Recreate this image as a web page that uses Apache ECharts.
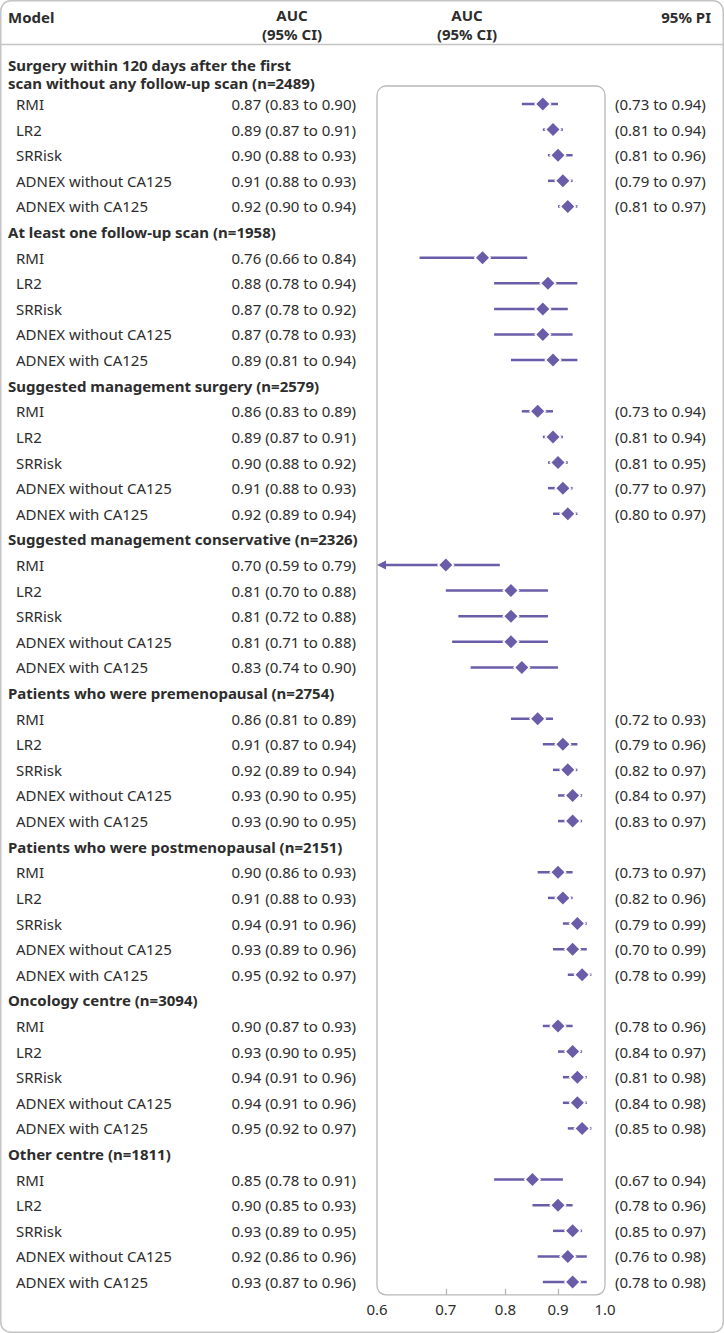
<!DOCTYPE html>
<html>
<head>
<meta charset="utf-8">
<style>
html,body{margin:0;padding:0;background:#fff;}
#chart{width:724px;height:1333px;}
</style>
<script src="https://cdn.jsdelivr.net/npm/echarts@6/dist/echarts.min.js"></script>
</head>
<body>
<div id="chart"></div>
<script>
const models = ['RMI', 'LR2', 'SRRisk', 'ADNEX without CA125', 'ADNEX with CA125'];
const groups = [
  ['Surgery within 120 days after the first', 'scan without any follow-up scan (n=2489)'],
  ['At least one follow-up scan (n=1958)'],
  ['Suggested management surgery (n=2579)'],
  ['Suggested management conservative (n=2326)'],
  ['Patients who were premenopausal (n=2754)'],
  ['Patients who were postmenopausal (n=2151)'],
  ['Oncology centre (n=3094)'],
  ['Other centre (n=1811)']
];
const aucEst = [
  [0.87, 0.89, 0.90, 0.91, 0.92],
  [0.76, 0.88, 0.87, 0.87, 0.89],
  [0.86, 0.89, 0.90, 0.91, 0.92],
  [0.70, 0.81, 0.81, 0.81, 0.83],
  [0.86, 0.91, 0.92, 0.93, 0.93],
  [0.90, 0.91, 0.94, 0.93, 0.95],
  [0.90, 0.93, 0.94, 0.94, 0.95],
  [0.85, 0.90, 0.93, 0.92, 0.93]
];
const ciLow = [
  [0.83, 0.87, 0.88, 0.88, 0.90],
  [0.66, 0.78, 0.78, 0.78, 0.81],
  [0.83, 0.87, 0.88, 0.88, 0.89],
  [0.59, 0.70, 0.72, 0.71, 0.74],
  [0.81, 0.87, 0.89, 0.90, 0.90],
  [0.86, 0.88, 0.91, 0.89, 0.92],
  [0.87, 0.90, 0.91, 0.91, 0.92],
  [0.78, 0.85, 0.89, 0.86, 0.87]
];
const ciHigh = [
  [0.90, 0.91, 0.93, 0.93, 0.94],
  [0.84, 0.94, 0.92, 0.93, 0.94],
  [0.89, 0.91, 0.92, 0.93, 0.94],
  [0.79, 0.88, 0.88, 0.88, 0.90],
  [0.89, 0.94, 0.94, 0.95, 0.95],
  [0.93, 0.93, 0.96, 0.96, 0.97],
  [0.93, 0.95, 0.96, 0.96, 0.97],
  [0.91, 0.93, 0.95, 0.96, 0.96]
];
const piLow = [
  [0.73, 0.81, 0.81, 0.79, 0.81],
  null,
  [0.73, 0.81, 0.81, 0.77, 0.80],
  null,
  [0.72, 0.79, 0.82, 0.84, 0.83],
  [0.73, 0.82, 0.79, 0.70, 0.78],
  [0.78, 0.84, 0.81, 0.84, 0.85],
  [0.67, 0.78, 0.85, 0.76, 0.78]
];
const piHigh = [
  [0.94, 0.94, 0.96, 0.97, 0.97],
  null,
  [0.94, 0.94, 0.95, 0.97, 0.97],
  null,
  [0.93, 0.96, 0.97, 0.97, 0.97],
  [0.97, 0.96, 0.99, 0.99, 0.99],
  [0.96, 0.97, 0.98, 0.98, 0.98],
  [0.94, 0.96, 0.97, 0.98, 0.98]
];
const xTickLabels = [0.6, 0.7, 0.8, 0.9, 1.0];
const xTickMarks = [0.7, 0.8, 0.9];
const xMin = 0.6, xMax = 1.0;

// Build row slots
const slots = [];
groups.forEach((g, gi) => {
  slots.push({ type: 'h', lines: g });
  models.forEach((m, mi) => slots.push({ type: 'm', text: m, g: gi, m: mi }));
});
const cats = slots.map((s, i) => String(i));
const f2 = v => v.toFixed(2);
const rowData = [];
slots.forEach((s, i) => {
  if (s.type === 'm') rowData.push([aucEst[s.g][s.m], ciLow[s.g][s.m], ciHigh[s.g][s.m], i]);
});

const PURPLE = '#6b5ca9';
const TXT = '#2d2d2d';
const FONT = '"Noto Sans", "Open Sans", sans-serif';
const BOLD = 'bold 15px ' + FONT;
const pitch = 25.61;
const gridTop = 104 - pitch * 1.5;
const gridBottom = 1333 - (gridTop + pitch * slots.length);

const headerTexts = [
  { x: 8, y: 17, text: 'Model', align: 'left' },
  { x: 292, y: 15, text: 'AUC', align: 'center' },
  { x: 292, y: 33.5, text: '(95% CI)', align: 'center' },
  { x: 467, y: 15, text: 'AUC', align: 'center' },
  { x: 467, y: 33.5, text: '(95% CI)', align: 'center' },
  { x: 711, y: 17, text: '95% PI', align: 'right' }
];
// first (two-line) group title is placed above the plot box
const firstTitle = groups[0].map((t, i) => ({ x: 8, y: 64.5 + i * 18.5, text: t, align: 'left' }));

const chart = echarts.init(document.getElementById('chart'), null, { renderer: 'svg' });
chart.setOption({
  animation: false,
  backgroundColor: '#fff',
  textStyle: { fontFamily: FONT },
  grid: { left: 377, right: 119, top: gridTop, bottom: gridBottom },
  xAxis: {
    type: 'log', logBase: 10, min: xMin, max: xMax,
    axisLine: { show: false },
    splitLine: { show: false },
    axisTick: { show: true, inside: true, length: 6, customValues: xTickMarks, lineStyle: { color: '#b5b5b5', width: 1.3 } },
    axisLabel: { customValues: xTickLabels, formatter: v => Number(v).toFixed(1), fontSize: 15, color: TXT, margin: 7, fontFamily: FONT }
  },
  yAxis: [
    {
      type: 'category', data: cats, inverse: true, position: 'left',
      axisLine: { show: false }, axisTick: { show: false }, splitLine: { show: false },
      axisLabel: {
        interval: 0, align: 'left', margin: 369,
        formatter: (v, idx) => {
          const s = slots[idx];
          if (s.type === 'h') return s.lines.length === 1 ? '{h|' + s.lines[0] + '}' : '';
          return '{m|' + s.text + '}';
        },
        rich: {
          h: { fontSize: 15, fontWeight: 'bold', color: TXT, fontFamily: FONT },
          m: { fontSize: 15, color: TXT, fontFamily: FONT, padding: [0, 0, 0, 8] }
        }
      }
    },
    {
      type: 'category', data: cats, inverse: true, position: 'left',
      axisLine: { show: false }, axisTick: { show: false }, splitLine: { show: false },
      axisLabel: {
        interval: 0, align: 'right', margin: 21, fontSize: 15, color: TXT, fontFamily: FONT,
        formatter: (v, idx) => {
          const s = slots[idx];
          if (s.type !== 'm') return '';
          return f2(aucEst[s.g][s.m]) + ' (' + f2(ciLow[s.g][s.m]) + ' to ' + f2(ciHigh[s.g][s.m]) + ')';
        }
      }
    },
    {
      type: 'category', data: cats, inverse: true, position: 'right',
      axisLine: { show: false }, axisTick: { show: false }, splitLine: { show: false },
      axisLabel: {
        interval: 0, align: 'left', margin: 10, fontSize: 15, color: TXT, fontFamily: FONT,
        formatter: (v, idx) => {
          const s = slots[idx];
          if (s.type !== 'm' || !piLow[s.g]) return '';
          return '(' + f2(piLow[s.g][s.m]) + ' to ' + f2(piHigh[s.g][s.m]) + ')';
        }
      }
    }
  ],
  graphic: [
    { type: 'rect', z: -1, shape: { x: 0.75, y: 0.75, width: 722.5, height: 1331.5, r: 10 }, style: { fill: 'none', stroke: '#c4c4c4', lineWidth: 1.5 } },
    { type: 'line', z: -1, shape: { x1: 0, y1: 44.5, x2: 724, y2: 44.5 }, style: { stroke: '#c4c4c4', lineWidth: 1.5 } },
    { type: 'rect', z: -1, shape: { x: 377, y: 86, width: 228, height: gridTop + pitch * slots.length - 86, r: 9 }, style: { fill: 'none', stroke: '#b8b8b8', lineWidth: 1.3 } }
  ].concat(headerTexts.concat(firstTitle).map(t => ({
    type: 'text',
    style: { x: t.x, y: t.y, text: t.text, font: BOLD, fill: TXT, textAlign: t.align, textVerticalAlign: 'middle' }
  }))),
  series: [{
    type: 'custom',
    xAxisIndex: 0, yAxisIndex: 0,
    clip: false,
    encode: { x: [0, 1, 2], y: 3 },
    data: rowData,
    renderItem: (params, api) => {
      const est = api.value(0), lo = api.value(1), hi = api.value(2), yi = api.value(3);
      const pE = api.coord([est, yi]);
      const pL = api.coord([Math.max(lo, xMin), yi]);
      const pH = api.coord([Math.min(hi, xMax), yi]);
      const y = pE[1];
      const children = [];
      const lineStart = lo < xMin ? pL[0] + 6 : pL[0];
      children.push({ type: 'line', shape: { x1: lineStart, y1: y, x2: pH[0], y2: y }, style: { stroke: PURPLE, lineWidth: 2.5 } });
      if (lo < xMin) {
        children.push({ type: 'polygon', shape: { points: [[pL[0], y], [pL[0] + 9, y - 4.5], [pL[0] + 9, y + 4.5]] }, style: { fill: PURPLE } });
      }
      const w = 8.8, d = 6.5;
      children.push({ type: 'polygon', shape: { points: [[pE[0] - w, y], [pE[0], y - w], [pE[0] + w, y], [pE[0], y + w]] }, style: { fill: '#fff' } });
      children.push({ type: 'polygon', shape: { points: [[pE[0] - d, y], [pE[0], y - d], [pE[0] + d, y], [pE[0], y + d]] }, style: { fill: PURPLE } });
      return { type: 'group', children };
    }
  }]
});
</script>
</body>
</html>
